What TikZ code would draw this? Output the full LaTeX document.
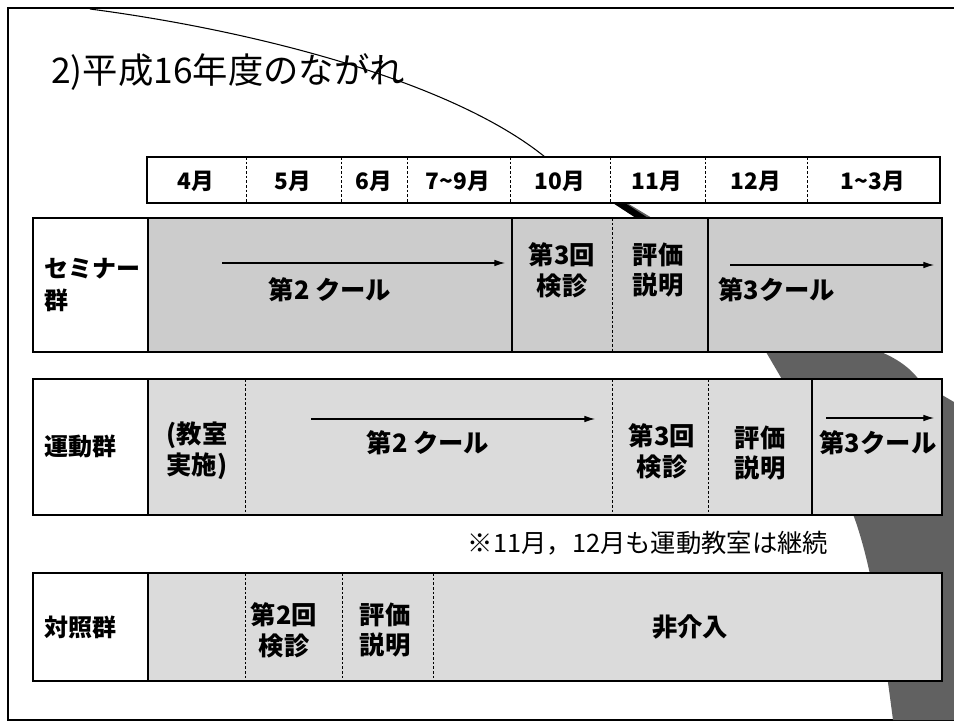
\documentclass[tikz,border=0pt]{standalone}
\usepackage{fontspec}
\setmainfont{Noto Sans CJK JP}
\usetikzlibrary{arrows.meta}
\definecolor{semfill}{gray}{0.80}
\definecolor{rowfill}{gray}{0.86}
\definecolor{darkshape}{gray}{0.38}
\begin{document}
\begin{tikzpicture}[x=0.75pt,y=-0.75pt,
  frameline/.style={line width=1.1pt},
  boxline/.style={draw=black,line width=0.9pt},
  divsolid/.style={line width=0.8pt},
  divdash/.style={line width=0.6pt,dash pattern=on 2pt off 1.5pt},
  hdr/.style={font=\bfseries\fontsize{17}{19}\selectfont,inner sep=0pt},
  rtxt/.style={font=\bfseries\fontsize{19}{23}\selectfont,inner sep=0pt,align=center},
  ltxt/.style={font=\bfseries\fontsize{18}{24}\selectfont,inner sep=0pt,align=left},
  flow/.style={line width=0.8pt,-{Latex[length=8pt,width=5pt]}}
]
\useasboundingbox (0,0) rectangle (954,724);
\fill[white] (0,0) rectangle (954,724);

% outer frame
\draw[frameline] (954,8) -- (8,8) -- (8,720) -- (954,720);

% dark decorative shape behind the rows
\fill[darkshape] (613,203) -- (627,203) -- (652,218) -- (881,352)
  .. controls (900,360) and (912,370) .. (920,381)
  -- (942,395) -- (954,402) -- (954,720) -- (893,720)
  .. controls (880,620) and (870,560) .. (853,514) -- (783,381) -- (766,352)
  -- (636,218) -- cycle;
\fill[black] (613,203) -- (625,203) -- (648,218) -- (636,218) -- cycle;

% curve from the top edge to the header
\coordinate (c0) at (90,9);
\coordinate (c1) at (545,157);
\draw[line width=0.8pt] (c0) .. controls (250,30) and (450,80) .. (c1);

% title
\node[anchor=west,inner sep=0pt,font=\fontsize{26.5}{28}\selectfont] (title) at (51,72) {2)平成16年度のながれ};

% header row
\draw[boxline,fill=white] (147,157) rectangle (940,203);
\foreach \x in {246,341,407,510,610,705,807}
  \draw[divdash] (\x,157) -- (\x,203);
\node[hdr] (m4) at (196,181) {4月};
\node[hdr] (m5) at (293,181) {5月};
\node[hdr] (m6) at (374,181) {6月};
\node[hdr] (m79) at (458,181) {7\textasciitilde 9月};
\node[hdr] (m10) at (560,181) {10月};
\node[hdr] (m11) at (657,181) {11月};
\node[hdr] (m12) at (756,181) {12月};
\node[hdr] (m13) at (873,181) {1\textasciitilde 3月};

% seminar row
\fill[semfill] (148,218) rectangle (942,352);
\draw[boxline] (33,218) rectangle (942,352);
\draw[divsolid] (148,218) -- (148,352);
\draw[divsolid] (512,218) -- (512,352);
\draw[divdash] (612,218) -- (612,352);
\draw[divsolid] (708,218) -- (708,352);
\node[ltxt,anchor=west] (semlbl) at (44,285) {セミナー\\群};
\coordinate (sa1) at (222,263);
\coordinate (sa2) at (505,263);
\draw[flow] (sa1) -- (sa2);
\node[rtxt] (s2) at (330,290) {第2\ クール};
\node[rtxt] (s3) at (562,270) {第3回\\検診};
\node[rtxt] (sev) at (658,270) {評価\\説明};
\coordinate (sb1) at (730,265);
\coordinate (sb2) at (934,265);
\draw[flow] (sb1) -- (sb2);
\node[rtxt,anchor=west] (s3c) at (718,290) {第3クール};

% motor row
\fill[rowfill] (148,379) rectangle (942,515);
\draw[boxline] (33,379) rectangle (942,515);
\draw[divsolid] (148,379) -- (148,515);
\draw[divdash] (245,379) -- (245,515);
\draw[divdash] (612,379) -- (612,515);
\draw[divdash] (708,379) -- (708,515);
\draw[divsolid] (812,379) -- (812,515);
\node[ltxt,anchor=west] (motlbl) at (44,446) {運動群};
\node[rtxt] (mcls) at (197,451) {(教室\\実施)};
\coordinate (ma1) at (311,419);
\coordinate (ma2) at (595,419);
\draw[flow] (ma1) -- (ma2);
\node[rtxt] (m2) at (428,443) {第2\ クール};
\node[rtxt] (m3) at (662,451) {第3回\\検診};
\node[rtxt] (mev) at (760,453) {評価\\説明};
\coordinate (mb1) at (826,418);
\coordinate (mb2) at (934,418);
\draw[flow] (mb1) -- (mb2);
\node[rtxt] (m3c) at (878,443) {第3クール};

% note
\node[inner sep=0pt,font=\fontsize{19}{21}\selectfont] (note) at (648,543) {※11月，12月も運動教室は継続};

% control row
\fill[rowfill] (148,573) rectangle (942,681);
\draw[boxline] (33,573) rectangle (942,681);
\draw[divsolid] (148,573) -- (148,681);
\draw[divdash] (245,573) -- (245,681);
\draw[divdash] (342,573) -- (342,681);
\draw[divdash] (433,573) -- (433,681);
\node[ltxt,anchor=west] (ctllbl) at (44,627) {対照群};
\node[rtxt] (c2) at (284,630) {第2回\\検診};
\node[rtxt] (cev) at (385,630) {評価\\説明};
\node[rtxt] (cni) at (690,627) {非介入};
\end{tikzpicture}
\end{document}
